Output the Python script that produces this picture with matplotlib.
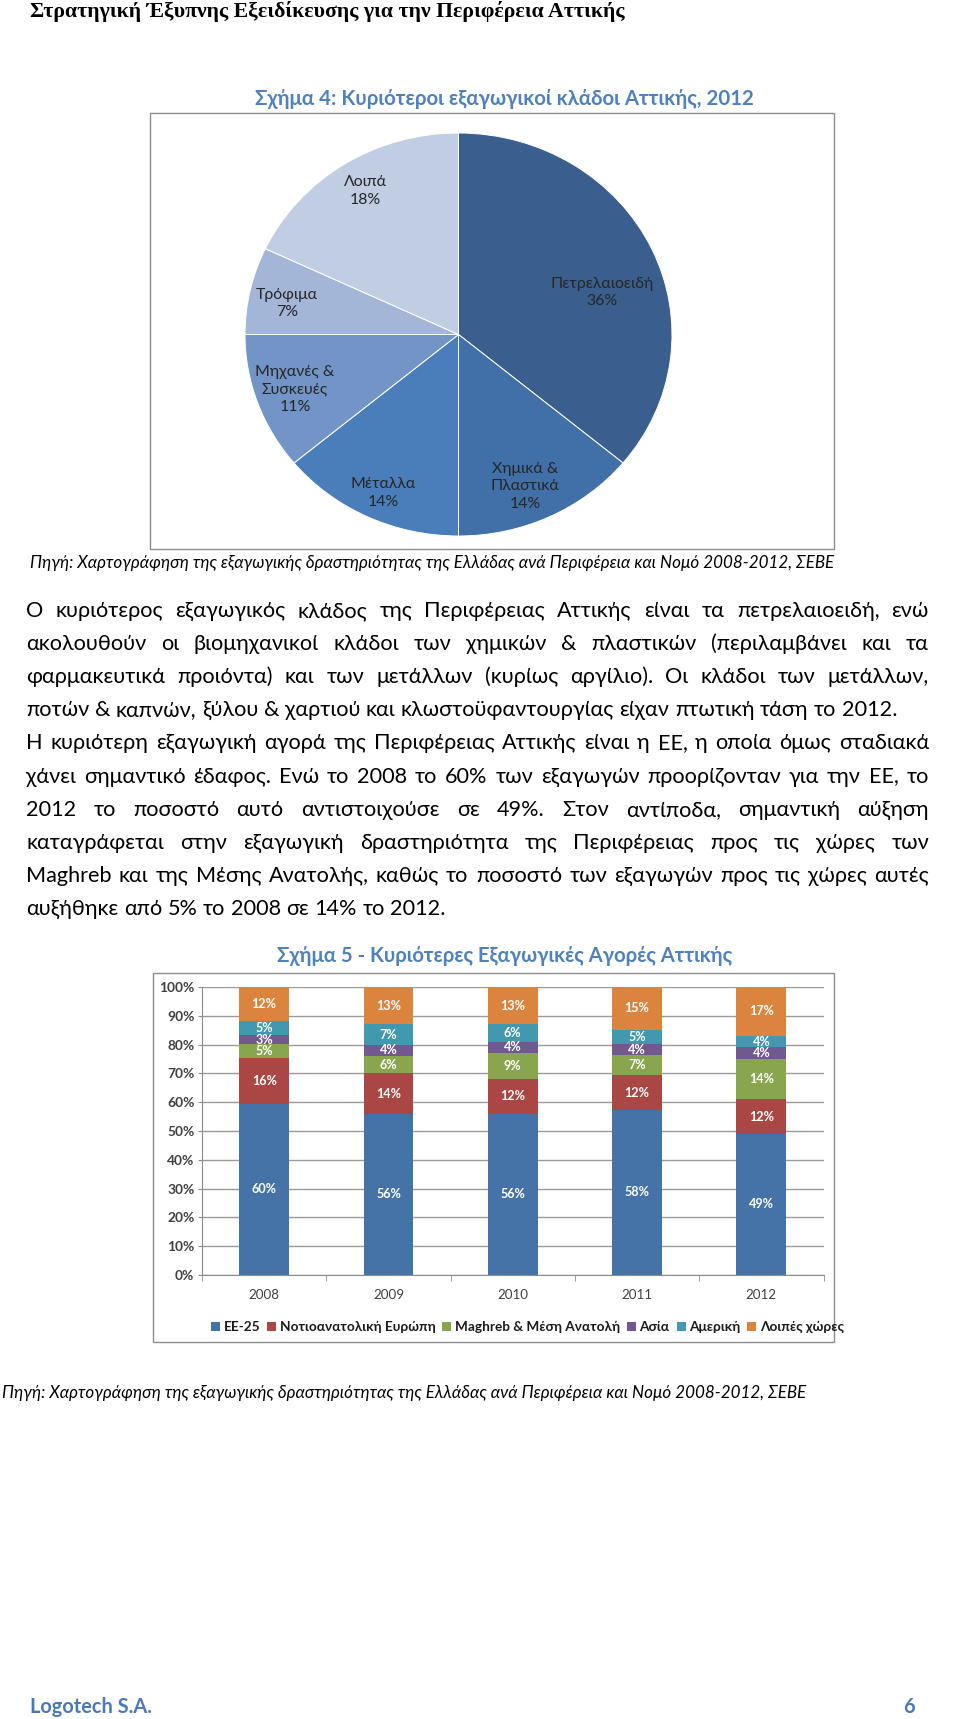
import matplotlib
matplotlib.use("Agg")
import matplotlib.pyplot as plt
from matplotlib.patches import Rectangle

W, H = 960, 1719
SANS = ["Lato", "Open Sans", "DejaVu Sans"]
SERIF = ["Liberation Serif", "DejaVu Serif"]

# ---------------- data ----------------
header_text = "Στρατηγική Έξυπνης Εξειδίκευσης για την Περιφέρεια Αττικής"
pie_title = "Σχήμα 4: Κυριότεροι εξαγωγικοί κλάδοι Αττικής, 2012"
pie_names = ["Πετρελαιοειδή", "Χημικά &\nΠλαστικά", "Μέταλλα",
             "Μηχανές &\nΣυσκευές", "Τρόφιμα", "Λοιπά"]
pie_values = [36, 14, 14, 11, 7, 18]
pie_colors = ["#3A5F8E", "#416FA7", "#4A7EBB", "#7294C7", "#A4B6D8", "#C0CDE3"]

source_text = ("Πηγή: Χαρτογράφηση της εξαγωγικής δραστηριότητας της Ελλάδας "
               "ανά Περιφέρεια και Νομό 2008-2012, ΣΕΒΕ")

para_lines = [
    "Ο κυριότερος εξαγωγικός κλάδος της Περιφέρειας Αττικής είναι τα πετρελαιοειδή, ενώ",
    "ακολουθούν οι βιομηχανικοί κλάδοι των χημικών & πλαστικών (περιλαμβάνει και τα",
    "φαρμακευτικά προιόντα) και των μετάλλων (κυρίως αργίλιο). Οι κλάδοι των μετάλλων,",
    "ποτών & καπνών, ξύλου & χαρτιού και κλωστοϋφαντουργίας είχαν πτωτική τάση το 2012.",
    "Η κυριότερη εξαγωγική αγορά της Περιφέρειας Αττικής είναι η ΕΕ, η οποία όμως σταδιακά",
    "χάνει σημαντικό έδαφος. Ενώ το 2008 το 60% των εξαγωγών προορίζονταν για την ΕΕ, το",
    "2012 το ποσοστό αυτό αντιστοιχούσε σε 49%. Στον αντίποδα, σημαντική αύξηση",
    "καταγράφεται στην εξαγωγική δραστηριότητα της Περιφέρειας προς τις χώρες των",
    "Maghreb και της Μέσης Ανατολής, καθώς το ποσοστό των εξαγωγών προς τις χώρες αυτές",
    "αυξήθηκε από 5% το 2008 σε 14% το 2012.",
]
para_justify = [True, True, True, False, True, True, True, True, True, False]

bar_title = "Σχήμα 5 - Κυριότερες Εξαγωγικές Αγορές Αττικής"
years = ["2008", "2009", "2010", "2011", "2012"]
series_names = ["ΕΕ-25", "Νοτιοανατολική Ευρώπη", "Maghreb & Μέση Ανατολή",
                "Ασία", "Αμερική", "Λοιπές χώρες"]
ee25 = [60, 56, 56, 58, 49]
se_europe = [16, 14, 12, 12, 12]
maghreb = [5, 6, 9, 7, 14]
asia = [3, 4, 4, 4, 4]
america = [5, 7, 6, 5, 4]
others = [12, 13, 13, 15, 17]
series_values = [ee25, se_europe, maghreb, asia, america, others]
series_colors = ["#4572A7", "#AA4643", "#89A54E", "#71588F", "#4198AF", "#DB843D"]
yticks = [0, 10, 20, 30, 40, 50, 60, 70, 80, 90, 100]

footer_left = "Logotech S.A."
footer_right = "6"

# ---------------- figure / page ----------------
fig = plt.figure(figsize=(W / 100, H / 100), dpi=100)
fig.patch.set_facecolor("white")
page = fig.add_axes([0, 0, 1, 1])
page.set_xlim(0, W)
page.set_ylim(H, 0)
page.axis("off")
R = fig.canvas.get_renderer()


def measure(s, size, **kw):
    t = page.text(0, 0, s, fontsize=size, **kw)
    w = t.get_window_extent(renderer=R).width
    t.remove()
    return w


def fit(s, target, **kw):
    return 12 * target / measure(s, 12, **kw)


def ptext(x, y, s, target=None, size=None, ha="left", va="center", **kw):
    if target is not None:
        size = fit(s, target, **kw)
    return page.text(x, y, s, fontsize=size, ha=ha, va=va, **kw)


# header
ptext(30, 12, header_text, target=590, family=SERIF, fontweight="bold", color="black")

# pie title
TITLE_BLUE = "#4F81BD"
ptext(504, 99, pie_title, target=499, ha="center", family=SANS,
      fontweight="bold", color=TITLE_BLUE)

# pie box
page.add_patch(Rectangle((150, 113), 684, 436, fill=False, ec="#8C8C8C", lw=1.0))

# pie
cx, cy, rx, ry = 458.5, 334.5, 213.5, 201.5
pax = fig.add_axes([(cx - rx) / W, 1 - (cy + ry) / H, 2 * rx / W, 2 * ry / H])
pax.pie(pie_values, colors=pie_colors, startangle=90, counterclock=False,
        wedgeprops=dict(edgecolor="white", linewidth=0.7))
pax.set_aspect("auto")
pax.set_xlim(-1, 1)
pax.set_ylim(-1, 1)
pax.axis("off")
pie_label_pos = [(0.672, 0.208), (0.311, -0.754), (-0.354, -0.787),
                 (-0.766, -0.273), (-0.803, 0.155), (-0.438, 0.712)]
pie_fs = fit("Πετρελαιοειδή", 104, family=SANS)
for name, val, (u, v) in zip(pie_names, pie_values, pie_label_pos):
    pax.text(u, v, f"{name}\n{val}%", ha="center", va="center", fontsize=pie_fs,
             family=SANS, color="#262626", linespacing=1.3)

# source 1
src_fs = fit(source_text, 803, family=SANS, style="italic")
ptext(30, 563, source_text, size=src_fs, family=SANS, style="italic", color="black")

# paragraph (justified)
para_fs = fit(para_lines[3], 870, family=SANS)
x0, x1 = 26, 929
y = 611
for line, just in zip(para_lines, para_justify):
    words = line.split(" ")
    arts = []
    widths = []
    for w in words:
        t = page.text(0, y, w, fontsize=para_fs, family=SANS, ha="left",
                      va="center", color="black")
        arts.append(t)
        widths.append(t.get_window_extent(renderer=R).width)
    if just:
        gap = (x1 - x0 - sum(widths)) / (len(words) - 1)
    else:
        gap = measure("a a", para_fs, family=SANS) - measure("aa", para_fs, family=SANS)
    x = x0
    for t, w in zip(arts, widths):
        t.set_x(x)
        x += w + gap
    y += 33.1

# bar chart title + box
ptext(504.5, 956, bar_title, target=455, ha="center", family=SANS,
      fontweight="bold", color=TITLE_BLUE)
page.add_patch(Rectangle((153, 973), 681, 369, fill=False, ec="#8C8C8C", lw=1.0))

# bar chart
bx0, bx1, by0, by100 = 202, 823.5, 1275, 987
bax = fig.add_axes([bx0 / W, 1 - by0 / H, (bx1 - bx0) / W, (by0 - by100) / H])
bax.set_facecolor("none")
xs = list(range(len(years)))
totals = [sum(s[i] for s in series_values) for i in xs]
bottoms = [0.0] * len(years)
label_fs = fit("12%", 25, family=SANS, fontweight="bold")
for name, vals, col in zip(series_names, series_values, series_colors):
    shares = [v / t * 100 for v, t in zip(vals, totals)]
    bax.bar(xs, shares, width=0.4, bottom=bottoms, color=col, label=name, zorder=3)
    for xi, sh, b, v in zip(xs, shares, bottoms, vals):
        bax.text(xi, b + sh / 2, f"{v}%", ha="center", va="center", color="white",
                 fontsize=label_fs, family=SANS, fontweight="bold", zorder=4)
    bottoms = [b + s for b, s in zip(bottoms, shares)]

bax.set_xlim(-0.5, len(years) - 0.5)
bax.set_ylim(0, 100)
bax.set_yticks(yticks)
tick_fs = fit("100%", 35, family=SANS, fontweight="bold")
bax.set_yticklabels([f"{v}%" for v in yticks], fontsize=tick_fs, family=SANS,
                    fontweight="bold", color="#404040")
bax.set_xticks(xs)
year_fs = fit("2008", 31, family=SANS)
bax.set_xticklabels(years, fontsize=year_fs, family=SANS, color="#404040")
bax.set_xticks([i - 0.5 for i in range(len(years) + 1)], minor=True)
bax.tick_params(axis="x", which="major", length=0, pad=10)
bax.tick_params(axis="x", which="minor", length=4, color="#8C8C8C", direction="out")
bax.tick_params(axis="y", length=3, color="#8C8C8C", pad=2.5)
bax.yaxis.grid(True, color="#9A9A9A", lw=1.0, zorder=0)
bax.set_axisbelow(True)
for side in ["top", "right"]:
    bax.spines[side].set_visible(False)
for side in ["left", "bottom"]:
    bax.spines[side].set_color("#8C8C8C")

# legend (manual row)
leg_fs = fit("Νοτιοανατολική Ευρώπη", 154, family=SANS, fontweight="bold")
lx, ly = 211, 1327
for name, col in zip(series_names, series_colors):
    page.add_patch(Rectangle((lx, ly - 4.5), 9, 9, color=col, lw=0))
    lx += 12.5
    t = page.text(lx, ly, name, fontsize=leg_fs, family=SANS, fontweight="bold",
                  ha="left", va="center", color="#1A1A1A")
    lx += t.get_window_extent(renderer=R).width + 7

# source 2
ptext(2, 1393, source_text, size=src_fs, family=SANS, style="italic", color="black")

# footer
FOOT_BLUE = "#4A7AB5"
ptext(30, 1707, footer_left, target=122, family=SANS, fontweight="bold", color=FOOT_BLUE)
foot_fs = fit(footer_left, 122, family=SANS, fontweight="bold")
ptext(915, 1707, footer_right, size=foot_fs, ha="right", family=SANS,
      fontweight="bold", color=FOOT_BLUE)

fig.savefig("out.png", dpi=100)
